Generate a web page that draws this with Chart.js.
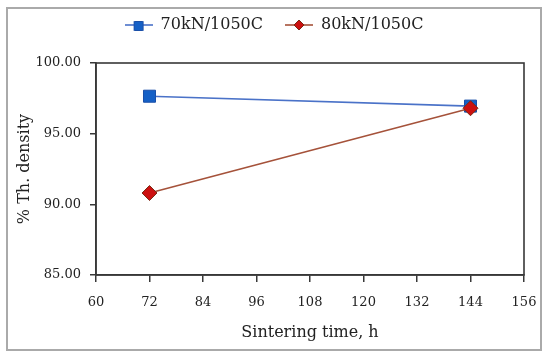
<!DOCTYPE html>
<html>
<head>
<meta charset="utf-8">
<script src="https://cdn.jsdelivr.net/npm/chart.js@4/dist/chart.umd.min.js"></script>
<style>
  html, body { margin: 0; padding: 0; background: #fff; }
  #wrap { position: relative; width: 550px; height: 357px; }
  #frame { position: absolute; left: 6px; top: 7px; width: 532px; height: 340px; border: 2px solid #aaaaaa; pointer-events: none; }
  canvas { position: absolute; left: 0; top: 0; }
</style>
</head>
<body>
<div id="wrap">
  <canvas id="c" width="550" height="357"></canvas>
  <div id="frame"></div>
</div>
<script>
const sinteringTime = [72, 144];
const density70kN = [97.65, 96.95];
const density80kN = [90.8, 96.8];
const seriesNames = ['70kN/1050C', '80kN/1050C'];
const xTicks = [60, 72, 84, 96, 108, 120, 132, 144, 156];
const yTicks = [85, 90, 95, 100];

const FONT = "'DejaVu Serif', 'Liberation Serif', serif";
const TEXT = '#222222';

const styles = [
  { line: '#4a72c8', fill: '#1560c6', border: '#1a4fa8', shape: 'rect', radius: 8.5, order: 1 },
  { line: '#a5523a', fill: '#cc1010', border: '#7a2a14', shape: 'rectRot', radius: 7.5, order: 0 }
];

function legendIcon(st) {
  const c = document.createElement('canvas');
  c.width = 28; c.height = 16;
  const ctx = c.getContext('2d');
  ctx.strokeStyle = st.line; ctx.lineWidth = 1.6;
  ctx.beginPath(); ctx.moveTo(0, 8); ctx.lineTo(28, 8); ctx.stroke();
  ctx.fillStyle = st.fill; ctx.strokeStyle = st.border; ctx.lineWidth = 1;
  ctx.beginPath();
  if (st.shape === 'rect') { ctx.rect(9.5, 4.5, 9, 9); }
  else { ctx.moveTo(14, 3); ctx.lineTo(19, 8); ctx.lineTo(14, 13); ctx.lineTo(9, 8); ctx.closePath(); }
  ctx.fill(); ctx.stroke();
  return c;
}
const icons = styles.map(legendIcon);

const toPoints = (ys) => sinteringTime.map((x, i) => ({ x: x, y: ys[i] }));

const plotBorder = {
  id: 'plotBorder',
  afterLayout(chart) {
    const l = chart.legend;
    if (l) { l.left += 5; l.right += 5; l.top -= 20; l.bottom -= 20; }
  },
  beforeDatasetsDraw(chart) {
    const a = chart.chartArea, ctx = chart.ctx;
    ctx.save();
    ctx.strokeStyle = '#383838'; ctx.lineWidth = 1.6;
    ctx.strokeRect(a.left, a.top, a.right - a.left, a.bottom - a.top);
    ctx.restore();
  }
};

new Chart(document.getElementById('c'), {
  type: 'line',
  data: {
    datasets: [density70kN, density80kN].map((ys, i) => ({
      label: seriesNames[i],
      data: toPoints(ys),
      order: styles[i].order,
      borderColor: styles[i].line,
      borderWidth: 1.6,
      pointStyle: styles[i].shape,
      pointRadius: styles[i].radius,
      pointBackgroundColor: styles[i].fill,
      pointBorderColor: styles[i].border,
      pointBorderWidth: 1,
      fill: false,
      tension: 0
    }))
  },
  options: {
    responsive: false,
    animation: false,
    devicePixelRatio: 1,
    layout: { padding: { left: 14, right: 26, top: 15, bottom: 8 } },
    plugins: {
      tooltip: { enabled: false },
      legend: {
        display: true,
        position: 'top',
        labels: {
          usePointStyle: true,
          pointStyleWidth: 28,
          padding: 22,
          color: TEXT,
          font: { family: FONT, size: 16 },
          generateLabels: (chart) => chart.data.datasets.map((ds, i) => ({
            text: ds.label,
            pointStyle: icons[i],
            fillStyle: styles[i].fill,
            strokeStyle: styles[i].line,
            fontColor: TEXT,
            hidden: false,
            datasetIndex: i
          }))
        }
      }
    },
    scales: {
      x: {
        type: 'linear',
        min: 60, max: 156,
        afterBuildTicks: (s) => { s.ticks = xTicks.map(v => ({ value: v })); },
        afterFit: (s) => { s.height = 74; },
        ticks: { color: TEXT, font: { family: FONT, size: 13 }, padding: 13 },
        grid: { display: true, drawOnChartArea: false, drawTicks: true, tickLength: 7, color: '#383838', lineWidth: 1.5 },
        border: { display: true, color: '#383838', width: 1.6 },
        title: { display: true, text: 'Sintering time, h', color: TEXT, font: { family: FONT, size: 16 }, padding: { top: 0, bottom: 7 } }
      },
      y: {
        type: 'linear',
        min: 85, max: 100,
        afterBuildTicks: (s) => { s.ticks = yTicks.map(v => ({ value: v })); },
        afterFit: (s) => { s.width = 82; },
        ticks: { color: TEXT, font: { family: FONT, size: 13 }, padding: 9, callback: (v) => Number(v).toFixed(2) },
        grid: { display: true, drawOnChartArea: false, drawTicks: true, tickLength: 6, color: '#383838', lineWidth: 1.5 },
        border: { display: true, color: '#383838', width: 1.6 },
        title: { display: true, text: '% Th. density', color: TEXT, font: { family: FONT, size: 16 }, padding: { top: 1, bottom: 0 } }
      }
    }
  },
  plugins: [plotBorder]
});
</script>
</body>
</html>
